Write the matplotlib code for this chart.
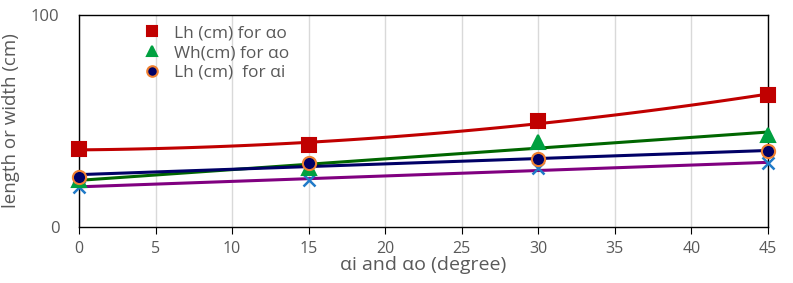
import matplotlib
matplotlib.use('Agg')
import matplotlib.pyplot as plt
import numpy as np

plt.rcParams['font.family'] = ['Open Sans', 'DejaVu Sans']

angle = [0, 15, 30, 45]
lh_ao = [36.8, 38.7, 50.0, 62.3]
wh_ao = [22.2, 27.8, 40.2, 43.4]
lh_ai = [23.7, 30.2, 31.9, 35.8]
wh_ai = [19.0, 22.2, 27.7, 30.0]

# (values, marker, face, edge, trend colour, trend degree, label)
series = [
    (lh_ao, 's', '#C00000', '#C00000', '#C00000', 2, 'Lh (cm) for αo'),
    (wh_ao, '^', '#00A040', '#00A040', '#006600', 1, 'Wh(cm) for αo'),
    (lh_ai, 'o', '#000066', '#F08030', '#000066', 1, 'Lh (cm)  for αi'),
    (wh_ai, 'x', '#1F7AC8', '#1F7AC8', '#800080', 1, None),
]

fig = plt.figure(figsize=(7.93, 2.83), dpi=100)
ax = fig.add_axes([79 / 793, 1 - 227 / 283, (768 - 79) / 793, (227 - 15) / 283])

xs = np.linspace(0, 45, 100)
for vals, mk, fc, ec, lc, deg, lab in series:
    coef = np.polyfit(angle, vals, deg)
    ax.plot(xs, np.polyval(coef, xs), color=lc, lw=2.2, zorder=2)
for vals, mk, fc, ec, lc, deg, lab in series:
    if mk == 'x':
        ax.plot(angle, vals, ls='none', marker='x', ms=8, mew=1.8,
                color=fc, zorder=3, label=lab, clip_on=False)
    else:
        ax.plot(angle, vals, ls='none', marker=mk, ms=9.5, mfc=fc, mec=ec,
                mew=1.5, zorder=4, label=lab, clip_on=False)

ax.set_xlim(0, 45)
ax.set_ylim(0, 100)
ax.set_xticks(range(0, 50, 5))
ax.set_yticks([0, 100])
ax.grid(axis='x', color='#D9D9D9', lw=1)
ax.set_axisbelow(True)
for s in ax.spines.values():
    s.set_color('black')
    s.set_linewidth(1)
ax.tick_params(axis='x', direction='out', length=5, color='black',
               labelsize=11.5, labelcolor='#595959', pad=5)
ax.tick_params(axis='y', length=0, labelsize=12, labelcolor='#595959', pad=14)
ax.set_xlabel('αi and αo (degree)', fontsize=14, color='#595959', labelpad=-1)
ax.set_ylabel('length or width (cm)', fontsize=13.5, color='#595959')
ax.yaxis.set_label_coords(-0.085, 0.5)

leg = ax.legend(loc='upper left', bbox_to_anchor=(0.07, 1.025), frameon=False,
                fontsize=12.5, labelcolor='#595959', handletextpad=0.8,
                labelspacing=0.2, handlelength=1.0, markerscale=0.8)

fig.savefig('out.png', dpi=100)
